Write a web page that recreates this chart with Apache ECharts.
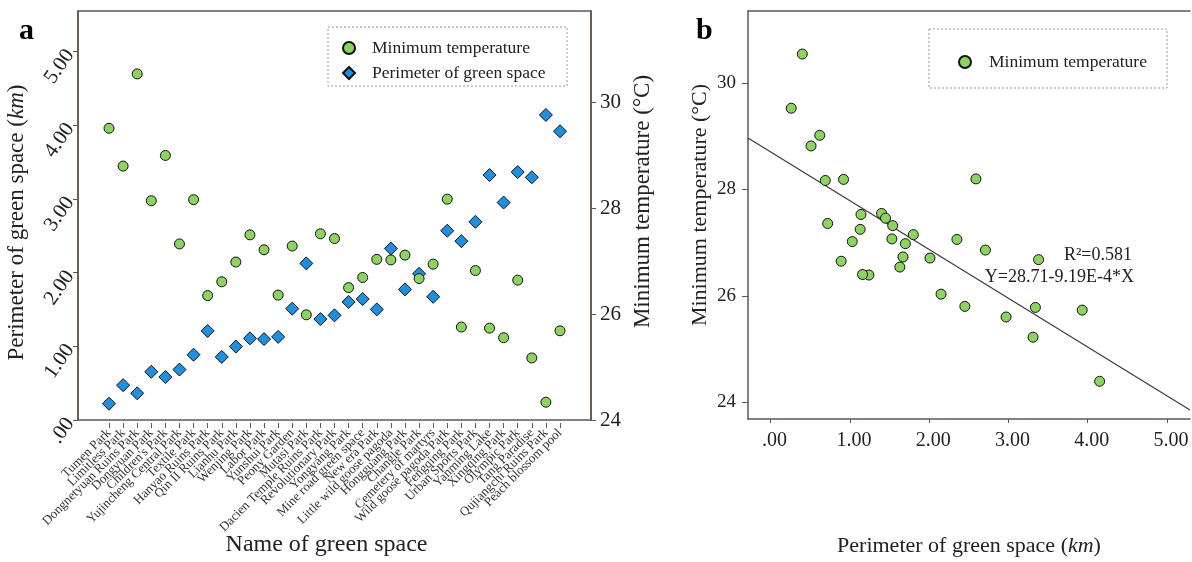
<!DOCTYPE html>
<html>
<head>
<meta charset="utf-8">
<script src="https://cdn.jsdelivr.net/npm/echarts@6/dist/echarts.min.js"></script>
<style>
  html, body { margin: 0; padding: 0; background: #fff; }
  #chart { width: 1192px; height: 562px; }
</style>
</head>
<body>
<div id="chart"></div>
<script>
// 绿地名称
const parks = [
  'Tumen Park', 'Limitless Park', 'Dongnetyuan Ruins Park', 'Dongyuan Park', "Children's Park",
  'Yujincheng Central Park', 'Textile Park', 'Hanyao Ruins Park', 'Qin II Ruins Park', 'Lianhu Park',
  'Wenjing Park', 'Labor Park', 'Yunshui Park', 'Peony Garden', 'Mutasi Park',
  'Dacien Temple Ruins Park', 'Revolutionary Park', 'Yongyang Park', 'Mine road green space', 'New era Park',
  'Little wild goose pagoda', 'Hongguang Park', 'Changle Park', 'Cemetery of martyrs', 'Wild goose pagoda Park',
  'Fengqing Park', 'Urban Sports Park', 'Yanming Lake', 'Xingqing Park', 'Olympic Park',
  'Tang Paradise', 'Qujiangchi Ruins Park', 'Peach blossom pool'
];

// 周长 (km)
const perimeter = [0.26, 0.51, 0.40, 0.69, 0.62, 0.72, 0.92, 1.24, 0.89, 1.03,
  1.14, 1.13, 1.16, 1.54, 2.15, 1.40, 1.45, 1.63, 1.67, 1.53,
  2.35, 1.80, 2.01, 1.70, 2.59, 2.45, 2.71, 3.34, 2.97, 3.38,
  3.31, 4.15, 3.93];

// 最低温度 (°C)
const minTemp = [29.53, 28.82, 30.55, 28.17, 29.02, 27.36, 28.19, 26.39, 26.65, 27.02,
  27.53, 27.25, 26.40, 27.32, 26.03, 27.55, 27.46, 26.54, 26.73, 27.07,
  27.06, 27.15, 26.71, 26.98, 28.20, 25.80, 26.86, 25.78, 25.60, 26.68,
  25.22, 24.39, 25.73];

// 回归线两端
const fitLine = [[-0.285, 28.97], [5.29, 23.85]];

// 刻度
const perimTicks = [0, 1, 2, 3, 4, 5];
const tempTicks = [24, 26, 28, 30];

const SERIF = 'Liberation Serif';
const AXIS = '#625551';
const TXT = '#222';
const GREEN = '#8ed35f';
const BLUE = '#1f8fe0';

const fmtKm = v => v === 0 ? '.00' : v.toFixed(2);
const italicRich = size => ({ i: { fontStyle: 'italic', fontFamily: SERIF, fontSize: size, color: TXT } });

const chart = echarts.init(document.getElementById('chart'));

chart.setOption({
  animation: false,
  textStyle: { fontFamily: SERIF, color: TXT },
  grid: [
    { left: 78, top: 11, width: 513, height: 412, show: true, borderColor: AXIS, borderWidth: 1.5 },
    { left: 109, top: 11, width: 451, height: 412 },
    { left: 748, top: 11, width: 442, height: 412 }
  ],
  xAxis: [
    {
      gridIndex: 0, type: 'value', min: 0, max: 1,
      axisLine: { show: false }, axisTick: { show: false }, axisLabel: { show: false }, splitLine: { show: false },
      name: 'Name of green space', nameLocation: 'middle', nameGap: 113,
      nameTextStyle: { fontFamily: SERIF, fontSize: 24, color: TXT, padding: [0, 16, 0, 0] }
    },
    {
      gridIndex: 1, type: 'category', data: parks, boundaryGap: false,
      axisLine: { show: false },
      axisTick: { show: true, length: 5, lineStyle: { color: AXIS } },
      axisLabel: { interval: 0, rotate: 45, fontSize: 13, margin: 8, color: '#333', fontFamily: SERIF },
      splitLine: { show: false }
    },
    {
      gridIndex: 2, type: 'value', min: -0.285, max: 5.29,
      axisLine: { show: true, onZero: false, lineStyle: { color: AXIS, width: 1.5 } },
      axisTick: { show: true, length: 4, customValues: perimTicks, lineStyle: { color: AXIS } },
      axisLabel: { customValues: perimTicks, formatter: fmtKm, fontSize: 20, margin: 12, padding: [0, 0, 0, 8], color: TXT },
      splitLine: { show: false },
      name: 'Perimeter of green space ({i|km})', nameLocation: 'middle', nameGap: 116,
      nameTextStyle: { fontFamily: SERIF, fontSize: 22, color: TXT, rich: italicRich(22) }
    },
    {
      gridIndex: 2, type: 'value', position: 'top', min: -0.285, max: 5.29,
      axisLine: { show: true, onZero: false, lineStyle: { color: AXIS, width: 1.5 } },
      axisTick: { show: false }, axisLabel: { show: false }, splitLine: { show: false }
    }
  ],
  yAxis: [
    {
      gridIndex: 0, type: 'value', position: 'left', min: 0, max: 5.55,
      axisLine: { show: true, lineStyle: { color: AXIS, width: 1.5 } },
      axisTick: { show: true, length: 5, customValues: perimTicks, lineStyle: { color: AXIS } },
      axisLabel: { customValues: perimTicks, formatter: fmtKm, rotate: 55, fontSize: 21, margin: 8, color: TXT },
      splitLine: { show: false },
      name: 'Perimeter of green space ({i|km})', nameLocation: 'middle', nameGap: 50, nameRotate: 90,
      nameTextStyle: { fontFamily: SERIF, fontSize: 23, color: TXT, rich: italicRich(23), padding: [0, 14, 0, 0] }
    },
    {
      gridIndex: 0, type: 'value', position: 'right', min: 24, max: 31.73,
      axisLine: { show: true, lineStyle: { color: AXIS, width: 1.5 } },
      axisTick: { show: true, length: 5, customValues: tempTicks, lineStyle: { color: AXIS } },
      axisLabel: { customValues: tempTicks, fontSize: 21, margin: 9, color: TXT },
      splitLine: { show: false },
      name: 'Minimum temperature (°C)', nameLocation: 'middle', nameGap: 40, nameRotate: 90,
      nameTextStyle: { fontFamily: SERIF, fontSize: 23, color: TXT, padding: [0, 0, 0, 28] }
    },
    { gridIndex: 1, type: 'value', min: 0, max: 5.55, show: false },
    { gridIndex: 1, type: 'value', min: 24, max: 31.73, show: false },
    {
      gridIndex: 2, type: 'value', min: 23.68, max: 31.36,
      axisLine: { show: true, onZero: false, lineStyle: { color: AXIS, width: 1.5 } },
      axisTick: { show: true, length: 6, customValues: tempTicks, lineStyle: { color: AXIS } },
      axisLabel: { customValues: tempTicks, fontSize: 19, margin: 12, color: TXT },
      splitLine: { show: false },
      name: 'Minimum temperature (°C)', nameLocation: 'middle', nameGap: 37, nameRotate: 90,
      nameTextStyle: { fontFamily: SERIF, fontSize: 22, color: TXT, padding: [0, 0, 0, 20] }
    }
  ],
  legend: [
    {
      data: ['Minimum temperature', 'Perimeter of green space'],
      left: 337, top: 34, orient: 'vertical', itemGap: 7, itemWidth: 12, itemHeight: 12,
      textStyle: { fontFamily: SERIF, fontSize: 17.5, color: TXT, padding: [0, 0, 0, 12] },
      selectedMode: false
    },
    {
      data: ['Minimum temperature'],
      left: 953, top: 48, itemWidth: 12, itemHeight: 12,
      textStyle: { fontFamily: SERIF, fontSize: 17.5, color: TXT, padding: [0, 0, 0, 13] },
      selectedMode: false
    }
  ],
  graphic: [
    { type: 'rect', shape: { x: 328, y: 27, width: 239, height: 59 }, style: { fill: 'none', stroke: '#999', lineWidth: 1, lineDash: [2, 2] } },
    { type: 'rect', shape: { x: 929, y: 29, width: 238, height: 59 }, style: { fill: 'none', stroke: '#999', lineWidth: 1, lineDash: [2, 2] } },
    { type: 'text', left: 19, top: 16, style: { text: 'a', font: 'bold 30px "Liberation Serif"', fill: '#000' } },
    { type: 'text', left: 696, top: 16, style: { text: 'b', font: 'bold 30px "Liberation Serif"', fill: '#000' } },
    { type: 'text', x: 1132, y: 255, style: { text: 'R²=0.581', font: '18px "Liberation Serif"', fill: TXT, align: 'right', verticalAlign: 'middle' } },
    { type: 'text', x: 1134, y: 277, style: { text: 'Y=28.71-9.19E-4*X', font: '18px "Liberation Serif"', fill: TXT, align: 'right', verticalAlign: 'middle' } }
  ],
  series: [
    {
      name: 'Perimeter of green space', type: 'scatter', xAxisIndex: 1, yAxisIndex: 2,
      data: perimeter, symbol: 'diamond', symbolSize: 13,
      itemStyle: { color: BLUE, borderColor: '#111', borderWidth: 1, opacity: 1 }
    },
    {
      name: 'Minimum temperature', type: 'scatter', xAxisIndex: 1, yAxisIndex: 3,
      data: minTemp, symbol: 'circle', symbolSize: 10,
      itemStyle: { color: GREEN, borderColor: '#111', borderWidth: 1, opacity: 1 }
    },
    {
      name: 'Minimum temperature', type: 'scatter', xAxisIndex: 2, yAxisIndex: 4,
      data: perimeter.map((p, i) => [p, minTemp[i]]), symbol: 'circle', symbolSize: 10,
      itemStyle: { color: GREEN, borderColor: '#111', borderWidth: 1, opacity: 1 }
    },
    {
      name: 'fit', type: 'line', xAxisIndex: 2, yAxisIndex: 4,
      data: fitLine, symbol: 'none', clip: true,
      lineStyle: { color: '#3a3a3a', width: 1.2 }, z: 1
    }
  ]
});
</script>
</body>
</html>
